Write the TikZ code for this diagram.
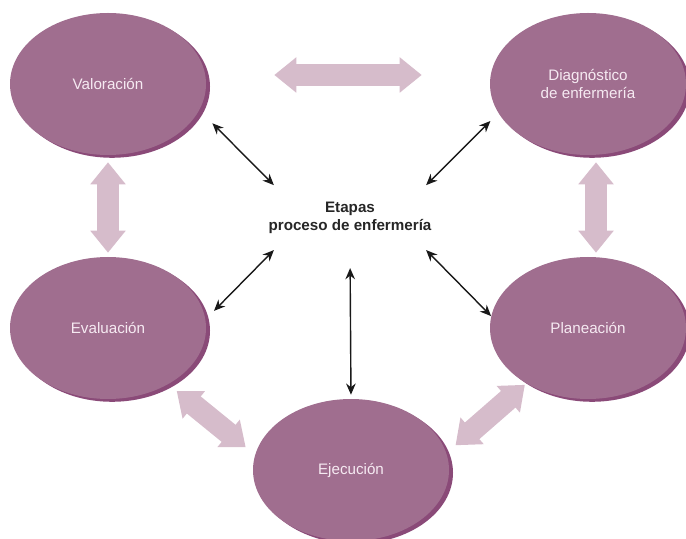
\documentclass[tikz,border=0pt]{standalone}
\usepackage{fontspec}
\setmainfont{Liberation Sans}
\usetikzlibrary{shapes.geometric,arrows.meta,shadows}
\definecolor{malva}{RGB}{160,110,143}
\definecolor{malvaosc}{RGB}{138,74,120}
\definecolor{rosa}{RGB}{214,188,203}
\definecolor{textorosa}{RGB}{246,234,242}
\tikzset{
	etapa/.style={ellipse,fill=malva,minimum width=4.9cm,minimum height=3.55cm,inner sep=0pt,align=center,text=textorosa,font=\fontsize{10.8}{12.8}\selectfont,drop shadow={shadow xshift=0.1cm,shadow yshift=-0.07cm,fill=malvaosc,opacity=1}},
	banda/.style={line width=0.55cm,rosa,{Triangle[length=0.55cm,width=0.85cm]}-{Triangle[length=0.55cm,width=0.85cm]}},
	enlace/.style={line width=1pt,black!90,{Stealth[length=2.8mm,width=2.4mm]}-{Stealth[length=2.8mm,width=2.4mm]}}
}

\begin{document}
\begin{tikzpicture}
			\useasboundingbox (0,0) rectangle (17.15,13.45);
			\node[etapa] (val) at (2.7,11.35) {Valoración};
			\node[etapa] (dia) at (14.7,11.35) {Diagnóstico\\de enfermería};
			\node[etapa] (eva) at (2.7,5.25) {Evaluación};
			\node[etapa] (pla) at (14.7,5.25) {Planeación};
			\node[etapa] (eje) at (8.775,1.7) {Ejecución};
			\node[align=center,inner xsep=-0.14cm,inner ysep=0.41cm,font=\fontsize{10.8}{12.8}\selectfont\bfseries,text=black!85] (etapas) at (8.75,8.01) {Etapas\\proceso de enfermería};
			\draw[banda,shorten <=1.7cm,shorten >=1.7cm] ([yshift=0.225cm]val.east) -- ([yshift=0.225cm]dia.west);
			\draw[banda,shorten <=0.175cm,shorten >=0.1cm] (val.south) -- (eva.north);
			\draw[banda,shorten <=0.175cm,shorten >=0.1cm] ([xshift=0.2cm]dia.south) -- ([xshift=0.2cm]pla.north);
			\draw[banda,shorten <=0.27cm,shorten >=0.3cm] (eva.-43) -- (eje.171);
			\draw[banda,shorten <=0.05cm,shorten >=0.3cm] (pla.222) -- (eje.10);
			\draw[enlace,shorten >=0.46cm] (etapas.north west) -- (val.-16);
			\draw[enlace,shorten >=0.28cm] (etapas.north east) -- (dia.198);
			\draw[enlace,shorten >=0.3cm] (etapas.south west) -- (eva.5);
			\draw[enlace] (etapas.south east) -- (pla.173);
			\draw[enlace,shorten <=0.45cm,shorten >=0.1cm] (etapas.south) -- (eje.north);
		\end{tikzpicture}
\end{document}
